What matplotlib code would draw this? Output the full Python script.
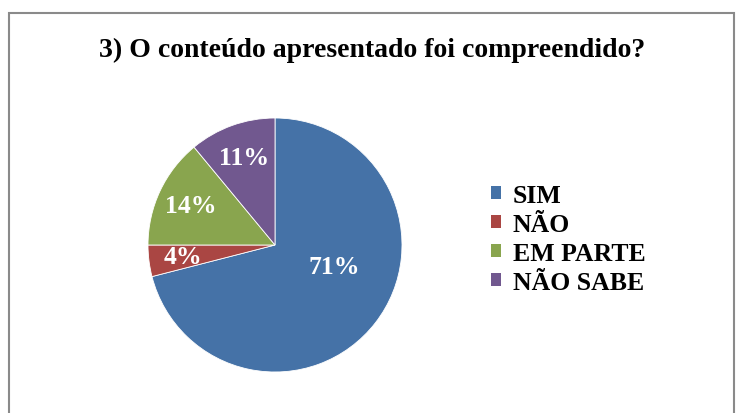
import matplotlib
matplotlib.use("Agg")
import matplotlib.pyplot as plt
from matplotlib.patches import Rectangle, Patch

title = "3) O conteúdo apresentado foi compreendido?"
categories = ["SIM", "NÃO", "EM PARTE", "NÃO SABE"]
values = [71, 4, 14, 11]
colors = ["#4572A7", "#AA4643", "#89A54E", "#71588F"]

plt.rcParams['font.family'] = ['Liberation Serif', 'DejaVu Serif']
plt.rcParams['font.weight'] = 'bold'

W, H = 736, 414
fig = plt.figure(figsize=(W / 100, H / 100), dpi=100)
fig.patch.set_facecolor("white")

# outer border
fig.patches.append(Rectangle((9 / W, -0.05), (734 - 9) / W, 1.05 - 14 / H,
                             transform=fig.transFigure, fill=False,
                             edgecolor="#8a8a8a", linewidth=1.5, clip_on=False))

cx, cy, r = 275, 246, 127
ax = fig.add_axes([(cx - r) / W, (H - cy - r) / H, 2 * r / W, 2 * r / H])
wedges, texts, autotexts = ax.pie(
    values, colors=colors, startangle=90, counterclock=False,
    autopct=lambda p: f"{p:.0f}%", pctdistance=0.73, radius=1,
    wedgeprops=dict(linewidth=0.6, edgecolor="white"),
    textprops=dict(color="white", fontsize=18.5, fontweight="bold"))
autotexts[0].set_position((0.47, -0.17))
ax.set_xlim(-1, 1)
ax.set_ylim(-1, 1)
ax.set_aspect("equal")
ax.axis("off")

fig.text(372 / W, 1 - 50 / H, title, ha="center", va="center",
         fontsize=20, fontweight="bold", color="black")

handles = [Patch(facecolor=c, edgecolor="none") for c in colors]
fig.legend(handles, categories, loc="center left",
           bbox_to_anchor=(473 / W, 1 - 240 / H), frameon=False,
           handlelength=0.4, handleheight=0.4,
           handletextpad=0.45, labelspacing=0.23, borderpad=0.2,
           prop=dict(weight="bold", size=18.5))

fig.savefig("out.png", dpi=100, facecolor="white")
